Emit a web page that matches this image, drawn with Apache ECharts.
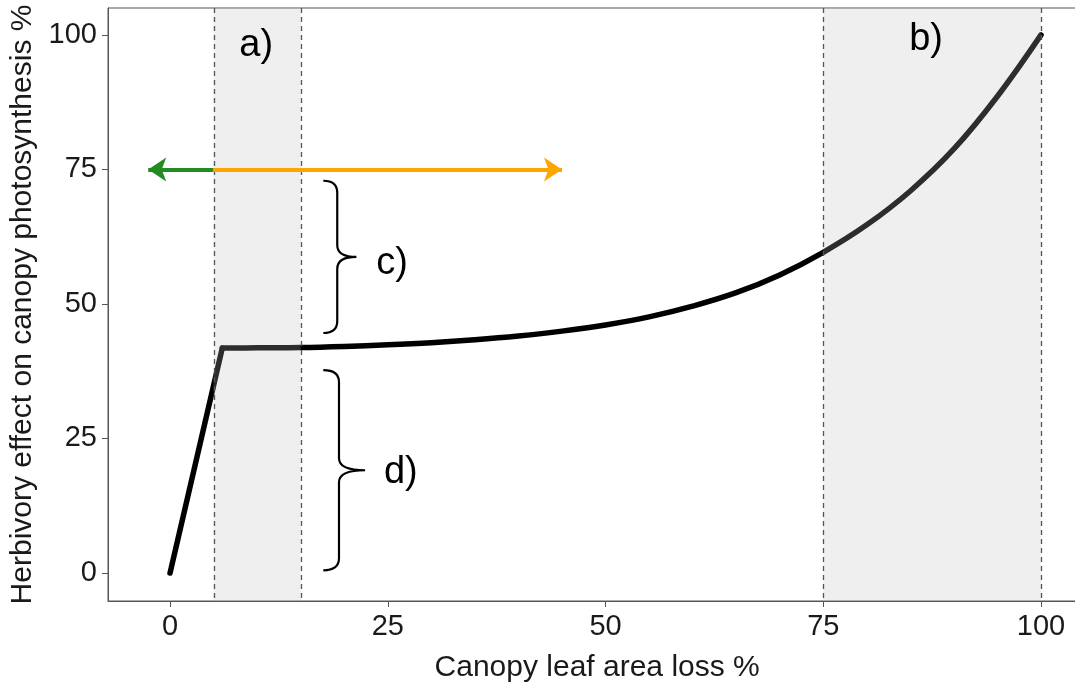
<!DOCTYPE html>
<html>
<head>
<meta charset="utf-8">
<script src="https://cdn.jsdelivr.net/npm/echarts@6/dist/echarts.min.js"></script>
<style>html,body{margin:0;padding:0;background:#fff}#c{width:1075px;height:684px}</style>
</head>
<body>
<div id="c"></div>
<script>
// ---- data ----
const leafLoss = [0, 6, 10, 15, 20, 25, 30, 35, 40, 45, 50, 55, 60, 65, 70, 75, 80, 85, 90, 95, 100];
const photoEffect = [0, 41.8, 41.85, 41.9, 42.1, 42.4, 42.8, 43.35, 44.05, 44.95, 46.1, 47.6, 49.6, 52.1, 55.4, 59.6, 64.7, 71.0, 78.8, 88.6, 100];
const kneeIndex = 1; // end of the linear rise
const shadedRanges = [[5, 15], [75, 100]];
const dashedX = [5, 15, 75, 100];
const arrowY = 75;
const arrowStartX = 5;
const greenArrowEndX = -2.5;
const orangeArrowEndX = 45;
// brace: [leftX, spineX, tipX, bottomY, topY]
const braceC = [17.6, 19.2, 21.4, 44.6, 72.9];
const braceD = [17.6, 19.4, 22.4, 0.5, 37.7];
const panelLabels = ['a)', 'b)', 'c)', 'd)'];
const panelLabelX = [9.9, 86.8, 25.5, 26.5];
const panelLabelY = [98.1, 99.1, 57.6, 18.6];
const tickValues = [0, 25, 50, 75, 100];

const FONT = '"Liberation Sans", Arial, sans-serif';
const chart = echarts.init(document.getElementById('c'), null, {renderer: 'canvas'});

const curveData = leafLoss.map((x, i) => [x, photoEffect[i]]);
const riseData = curveData.slice(0, kneeIndex + 1);
const tailData = curveData.slice(kneeIndex);

chart.setOption({
  animation: false,
  backgroundColor: '#fff',
  grid: {left: 108, top: 8, width: 978.3, height: 593, outerBoundsMode: 'none', containLabel: false,
    show: true, borderColor: '#555', borderWidth: 1, backgroundColor: 'transparent'},
  xAxis: {
    type: 'value', min: -7.12, max: 105.2,
    name: 'Canopy leaf area loss %', nameLocation: 'middle', nameGap: 52,
    nameTextStyle: {fontFamily: FONT, fontSize: 30, color: '#1a1a1a'},
    axisLine: {show: true, onZero: false, lineStyle: {color: '#555', width: 1}},
    axisTick: {show: true, length: 6, customValues: tickValues, lineStyle: {color: '#555'}},
    axisLabel: {customValues: tickValues, fontFamily: FONT, fontSize: 29, color: '#1a1a1a', margin: 11},
    splitLine: {show: false}
  },
  yAxis: {
    type: 'value', min: -5.2, max: 105,
    name: 'Herbivory effect on canopy photosynthesis %', nameLocation: 'middle', nameGap: 68, nameRotate: 90,
    nameTextStyle: {fontFamily: FONT, fontSize: 30, color: '#1a1a1a'},
    axisLine: {show: true, onZero: false, lineStyle: {color: '#555', width: 1}},
    axisTick: {show: true, length: 6, customValues: tickValues, lineStyle: {color: '#555'}},
    axisLabel: {customValues: tickValues, fontFamily: FONT, fontSize: 29, color: '#1a1a1a', margin: 11},
    splitLine: {show: false}
  },
  series: [
    {
      type: 'line', data: riseData, symbol: 'none', z: 2,
      lineStyle: {color: '#000', width: 5.5, cap: 'round', join: 'round'}
    },
    {
      type: 'line', data: tailData, symbol: 'none', z: 2, smooth: 0.4,
      lineStyle: {color: '#000', width: 5.5, cap: 'round', join: 'round'}
    },
    {
      type: 'custom', z: 3, silent: true, data: shadedRanges, clip: true,
      renderItem: function (params, api) {
        const cs = params.coordSys;
        const x0 = api.coord([api.value(0), 0])[0];
        const x1 = api.coord([api.value(1), 0])[0];
        return {type: 'rect', shape: {x: x0, y: cs.y, width: x1 - x0, height: cs.height},
          style: {fill: 'rgba(190,190,190,0.24)'}};
      }
    },
    {
      type: 'custom', z: 4, silent: true, data: dashedX.map(v => [v]),
      renderItem: function (params, api) {
        const cs = params.coordSys;
        const x = Math.round(api.coord([api.value(0), 0])[0]) + 0.5;
        return {type: 'line', shape: {x1: x, y1: cs.y, x2: x, y2: cs.y + cs.height},
          style: {stroke: '#555', lineWidth: 1.3, lineDash: [5, 4]}};
      }
    },
    {
      type: 'lines', coordinateSystem: 'cartesian2d', z: 5, silent: true,
      symbol: ['none', 'arrow'], symbolSize: [15, 18],
      data: [
        {coords: [[arrowStartX, arrowY], [greenArrowEndX, arrowY]], lineStyle: {color: '#228B22'}},
        {coords: [[arrowStartX, arrowY], [orangeArrowEndX, arrowY]], lineStyle: {color: '#FFA500'}}
      ],
      lineStyle: {width: 4, opacity: 1}
    },
    {
      type: 'custom', z: 6, silent: true, data: [braceC, braceD],
      renderItem: function (params, api) {
        const lx = api.coord([api.value(0), 0])[0];
        const sx = api.coord([api.value(1), 0])[0];
        const tx = api.coord([api.value(2), 0])[0];
        const by = api.coord([0, api.value(3)])[1];
        const ty = api.coord([0, api.value(4)])[1];
        const my = (ty + by) / 2;
        const r = 12, r2 = 12;
        const d = 'M' + lx + ',' + ty +
          ' Q' + sx + ',' + ty + ' ' + sx + ',' + (ty + r) +
          ' L' + sx + ',' + (my - r2) +
          ' Q' + sx + ',' + my + ' ' + tx + ',' + my +
          ' Q' + sx + ',' + my + ' ' + sx + ',' + (my + r2) +
          ' L' + sx + ',' + (by - r) +
          ' Q' + sx + ',' + by + ' ' + lx + ',' + by;
        return {type: 'path', shape: {pathData: d},
          style: {stroke: '#000', lineWidth: 2.2, fill: 'none'}};
      }
    },
    {
      type: 'custom', z: 7, silent: true,
      data: panelLabels.map((t, i) => [panelLabelX[i], panelLabelY[i], i]),
      renderItem: function (params, api) {
        const p = api.coord([api.value(0), api.value(1)]);
        return {type: 'text', x: p[0], y: p[1],
          style: {text: panelLabels[api.value(2)], font: '38px ' + FONT, fill: '#000', align: 'center', verticalAlign: 'middle'}};
      }
    }
  ]
});
</script>
</body>
</html>
